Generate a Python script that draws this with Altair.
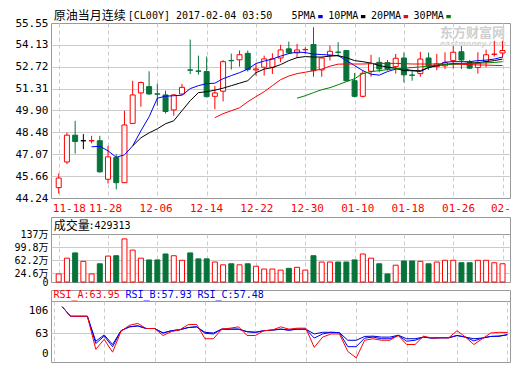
import altair as alt
import pandas as pd

# ------------------------------------------------------------------ data
TITLE_NAME = "原油当月连续"
TITLE_CODE = "[CL00Y] 2017-02-04 03:50"
DATE_TICKS = ["11-18", "11-28", "12-06", "12-14", "12-22",
              "12-30", "01-10", "01-18", "01-26", "02-03"]
TICK_EVERY = 6

OPEN = [44.91, 46.57, 48.30, 47.94, 47.93, 47.94, 45.45, 46.85, 45.23, 49.06,
        51.03, 51.44, 50.97, 50.90, 49.93, 50.96, 52.52, 52.45, 52.41, 50.81,
        51.14, 53.13, 53.17, 53.59, 52.52, 52.69, 52.69, 53.29, 53.88, 53.62,
        53.82, 54.16, 52.52, 53.44, 53.67, 53.77, 51.82, 50.81, 52.43, 53.01,
        52.99, 52.73, 53.29, 52.19, 52.28, 53.29, 52.73, 52.78, 53.12, 53.69,
        52.99, 52.67, 53.05, 53.52, 53.61]
HIGH = [45.82, 48.47, 49.23, 48.37, 48.26, 48.26, 47.61, 47.07, 49.88, 51.82,
        51.76, 52.43, 51.63, 51.18, 50.96, 51.61, 54.48, 53.44, 53.38, 51.48,
        53.15, 53.57, 53.77, 53.77, 52.94, 53.44, 53.59, 54.14, 54.35, 54.20,
        53.98, 55.28, 53.33, 54.09, 54.31, 53.77, 52.32, 52.47, 53.49, 53.33,
        53.16, 53.55, 53.64, 52.54, 53.69, 53.64, 53.55, 53.66, 54.06, 54.06,
        53.16, 53.66, 53.83, 54.40, 54.40]
LOW = [44.52, 46.43, 47.11, 47.40, 47.77, 45.88, 45.17, 44.80, 45.20, 49.02,
       50.14, 50.92, 50.20, 49.70, 49.56, 50.90, 52.25, 52.21, 50.74, 49.98,
       50.48, 52.54, 52.73, 52.41, 52.15, 52.15, 52.26, 53.01, 53.55, 53.29,
       53.55, 52.08, 52.08, 53.12, 53.38, 51.76, 50.74, 50.74, 52.08, 52.36,
       52.47, 52.28, 51.71, 51.82, 52.08, 52.52, 52.50, 52.58, 52.61, 52.58,
       52.58, 52.28, 52.69, 53.38, 53.31]
CLOSE = [45.53, 48.30, 47.89, 47.94, 47.95, 45.93, 46.90, 45.23, 48.96, 50.90,
         51.70, 50.96, 50.95, 49.83, 50.90, 51.39, 52.50, 52.43, 50.79, 51.03,
         53.05, 53.11, 53.50, 52.54, 52.58, 53.23, 53.23, 53.81, 53.62, 53.81,
         53.84, 52.47, 53.29, 53.72, 53.65, 51.82, 50.81, 52.30, 52.94, 52.58,
         52.58, 53.27, 52.20, 52.17, 53.22, 52.73, 52.91, 52.99, 53.66, 53.16,
         52.63, 52.96, 53.50, 53.54, 53.77]
VOLUME = [23, 68, 83, 59, 23, 52, 74, 75, 123, 91,
          68, 63, 63, 80, 75, 62, 83, 66, 66, 57,
          49, 52, 49, 52, 45, 37, 37, 34, 39, 42,
          34, 75, 57, 57, 57, 57, 63, 80, 68, 52,
          23, 48, 60, 60, 59, 52, 57, 62, 62, 55,
          55, 62, 62, 55, 52]

MA_NAMES = ["5PMA", "10PMA", "20PMA", "30PMA"]
MA_START = [4, 9, 19, 29]
MA5 = [47.55, 47.58, 47.29, 46.87, 47.03, 47.61, 48.58, 49.49, 50.69, 50.82,
       50.85, 50.88, 51.31, 51.50, 51.63, 51.66, 51.95, 52.15, 52.34, 52.57,
       52.93, 53.09, 53.22, 53.41, 53.57, 53.67, 53.64, 53.54, 53.51, 53.48,
       53.44, 53.12, 52.80, 52.47, 52.24, 52.18, 52.41, 52.57, 52.60, 52.47,
       52.41, 52.67, 52.80, 53.02, 53.05, 53.05, 53.05, 53.12, 53.15, 53.22,
       53.35]
MA10 = [47.61, 48.13, 48.45, 48.71, 49.04, 49.23, 49.88, 50.53, 51.05, 51.11,
        51.21, 51.34, 51.50, 51.66, 51.82, 52.34, 52.57, 52.67, 52.86, 53.12,
        53.31, 53.38, 53.35, 53.35, 53.41, 53.44, 53.31, 53.12, 53.05, 52.96,
        52.80, 52.70, 52.63, 52.47, 52.47, 52.47, 52.67, 52.80, 52.86, 52.93,
        52.93, 52.96, 52.99, 53.05, 53.12, 53.22]
MA20 = [49.43, 49.69, 49.88, 50.07, 50.46, 50.79, 51.11, 51.50, 51.89, 52.12,
        52.28, 52.37, 52.47, 52.57, 52.76, 52.89, 52.90, 52.90, 52.90, 52.92,
        52.94, 52.94, 52.94, 52.92, 52.90, 52.90, 52.90, 52.90, 52.90, 52.89,
        52.88, 52.86, 52.84, 52.83, 52.81, 52.80]
MA30 = [50.69, 50.85, 51.05, 51.24, 51.37, 51.56, 51.76, 51.95, 52.28, 52.41,
        52.47, 52.54, 52.60, 52.63, 52.67, 52.71, 52.76, 52.83, 52.86, 52.89,
        52.93, 52.94, 52.95, 52.97, 53.00, 53.05]

RSI_NAMES = ["RSI_A", "RSI_B", "RSI_C"]
RSI_LAST = ["63.95", "57.93", "57.48"]
RSI_START = 1
RSI_A = [112.1, 94.2, 94.2, 94.2, 12.0, 43.1, 3.0, 66.0, 77.3,
         80.9, 71.4, 71.4, 55.2, 65.5, 69.1, 78.6, 79.1, 45.0, 45.0,
         70.2, 72.0, 74.5, 55.2, 55.2, 67.3, 68.4, 74.5, 70.2, 72.0,
         72.0, 18.0, 50.1, 60.0, 60.0, 5.1, -15.0, 40.2, 45.0, 40.2,
         40.2, 55.2, 27.0, 27.0, 53.1, 47.1, 48.0, 48.0, 67.3, 50.1,
         27.0, 45.0, 63.0, 64.3, 63.95]
RSI_B = [112.1, 94.2, 94.2, 94.2, 30.0, 53.1, 20.1, 67.3, 74.5,
         76.3, 71.4, 71.4, 63.0, 67.3, 69.1, 73.2, 74.5, 62.1, 60.0,
         70.2, 70.2, 70.2, 65.5, 64.3, 67.3, 68.4, 70.2, 68.4, 70.2,
         70.2, 47.1, 60.0, 64.3, 63.7, 20.1, 20.1, 47.1, 50.1, 45.0,
         45.0, 55.2, 37.2, 40.2, 50.1, 47.1, 48.0, 48.0, 55.2, 50.1,
         38.1, 47.1, 52.2, 53.1, 57.93]
RSI_C = [112.1, 94.2, 94.2, 94.2, 37.2, 57.0, 27.0, 67.3, 74.5,
         76.3, 71.4, 71.4, 63.0, 67.3, 69.1, 73.2, 74.5, 64.3, 63.0,
         70.2, 70.2, 70.2, 65.5, 64.3, 67.3, 68.4, 70.2, 68.4, 70.2,
         70.2, 60.0, 64.3, 64.3, 63.7, 40.2, 40.2, 52.2, 53.1, 50.1,
         50.1, 56.0, 45.0, 45.0, 50.1, 47.1, 48.0, 48.0, 55.2, 50.1,
         45.0, 47.1, 52.2, 53.1, 57.48]

PRICE_TICKS = [44.24, 45.66, 47.07, 48.48, 49.90, 51.31, 52.72, 54.13, 55.55]
VOL_TICKS = [0, 24.6, 62.2, 99.8, 137]
RSI_TICKS = [0, 63, 106]
VOL_TITLE = "成交量"
VOL_LAST = "429313"
WATERMARK = "东方财富网"
WATERMARK_URL = "eastmoney.com"

# ------------------------------------------------------------------ style
RED = "#ff0000"
GREEN = "#07733a"
BLUE = "#0000ff"
BLACK = "#000000"
MA_COLORS = [BLUE, BLACK, RED, "#008000"]
RSI_COLORS = [RED, BLUE, "#0000cc"]
FRAME = "#999999"
GRID = "#cccccc"
MONO = "DejaVu Sans Mono, Noto Sans CJK SC"
CJK = "Noto Sans CJK SC"
W = 459
NOSTROKE = alt.ViewBackground(stroke="transparent")

N = len(CLOSE)
df = pd.DataFrame({"i": list(range(N)), "open": OPEN, "high": HIGH,
                   "low": LOW, "close": CLOSE, "vol": VOLUME})
df["line"] = [RED if c > o else (GREEN if c < o else BLACK) for o, c in zip(OPEN, CLOSE)]
df["body"] = ["white" if c > o else (GREEN if c < o else BLACK) for o, c in zip(OPEN, CLOSE)]
df["vline"] = [RED if c >= o else GREEN for o, c in zip(OPEN, CLOSE)]
df["vbody"] = ["white" if c >= o else GREEN for o, c in zip(OPEN, CLOSE)]

one = pd.DataFrame({"k": [0]})

X_DOMAIN = [-0.33, N - 1 + 0.3]
x_scale = alt.Scale(domain=X_DOMAIN, nice=False, zero=False)
tick_idx = [k * TICK_EVERY for k in range(len(DATE_TICKS))]


def x_enc():
    ax = alt.Axis(values=tick_idx, grid=True, gridColor=GRID, gridDash=[4, 3],
                  ticks=False, domain=False, labels=False)
    return alt.X("i:Q", scale=x_scale, axis=ax, title=None)


def edge_hide(test):
    return {"condition": {"test": test, "value": 0}, "value": 1}


YAX = dict(ticks=False, domain=False, labelPadding=3, labelFont=MONO,
           labelColor=BLACK, labelOverlap=False, grid=True, gridColor=GRID)

price_scale = alt.Scale(domain=[PRICE_TICKS[0], PRICE_TICKS[-1]], nice=False, zero=False)
price_axis = alt.Axis(values=PRICE_TICKS, format=".2f", labelFontSize=11,
                      gridOpacity=edge_hide("datum.value <= %s || datum.value >= %s"
                                            % (PRICE_TICKS[0], PRICE_TICKS[-1])), **YAX)


def py(field):
    return alt.Y(field + ":Q", scale=price_scale, axis=price_axis, title=None)


def label(text, x, y, **kw):
    kw.setdefault("align", "left")
    kw.setdefault("baseline", "middle")
    return alt.Chart(one).mark_text(text=text, **kw).encode(x=alt.value(x), y=alt.value(y))


# ------------------------------------------------------------------ title row
title_layers = [label(TITLE_NAME, 2.8, 6.5, font=CJK, fontSize=12, color=BLACK),
                label(TITLE_CODE, 76.8, 6.5, font=MONO, fontSize=10, color=BLACK)]
xpos = 240.5
for name, col in zip(MA_NAMES, MA_COLORS):
    title_layers.append(label(name, xpos, 6.5, font=MONO, fontSize=10, color=BLACK))
    d0 = xpos + 6 * len(name) + 2.7
    title_layers.append(alt.Chart(one).mark_rect(color=col).encode(
        x=alt.value(d0), x2=alt.value(d0 + 4.5), y=alt.value(6), y2=alt.value(9.2)))
    xpos = d0 + 10
title_row = alt.layer(*title_layers).properties(width=W, height=14, view=NOSTROKE)

# ------------------------------------------------------------------ price panel
base = alt.Chart(df)
wick = base.mark_rule(strokeWidth=1).encode(
    x=x_enc(), y=py("low"), y2="high:Q", color=alt.Color("line:N", scale=None))
body = base.mark_bar(size=5, strokeWidth=1).encode(
    x=x_enc(), y=py("open"), y2="close:Q",
    fill=alt.Fill("body:N", scale=None), stroke=alt.Stroke("line:N", scale=None))

ma_layers = []
for name, start, vals, col in zip(MA_NAMES, MA_START, [MA5, MA10, MA20, MA30], MA_COLORS):
    mdf = pd.DataFrame({"i": list(range(start, start + len(vals))), "value": vals})
    ma_layers.append(alt.Chart(mdf).mark_line(strokeWidth=1, color=col).encode(
        x=x_enc(), y=py("value")))

wm = [label(WATERMARK, W - 70, 9.5, font=CJK, fontSize=13, fontWeight="bold", color="#cfcfcf"),
      label(WATERMARK_URL, W - 70, 21, font="DejaVu Sans", fontSize=7.5, fontWeight="bold",
            fontStyle="italic", color="#d6d6d6")]

price = alt.layer(*wm, wick, body, *ma_layers).properties(width=W, height=175)

# ------------------------------------------------------------------ date labels
ddf = pd.DataFrame({"i": tick_idx, "d": DATE_TICKS})
date_x = alt.X("i:Q", scale=alt.Scale(domain=X_DOMAIN, range=[0, W], nice=False, zero=False), axis=None)
DATE_STYLE = dict(baseline="middle", font=MONO, fontSize=11, color=RED)
date_first = alt.Chart(ddf.iloc[:1]).mark_text(align="left", dx=-1, **DATE_STYLE).encode(
    x=date_x, y=alt.value(10.7), text="d:N")
date_mid = alt.Chart(ddf.iloc[1:-1]).mark_text(align="center", dx=1.5, **DATE_STYLE).encode(
    x=date_x, y=alt.value(10.7), text="d:N")
# the last label runs into the right edge of the picture and is cut there
date_last = alt.Chart(ddf.iloc[-1:]).mark_text(align="left", dx=-16.5, limit=20.5,
                                               ellipsis="\u200b", **DATE_STYLE).encode(
    x=date_x, y=alt.value(10.7), text="d:N")
date_row = alt.layer(date_first, date_mid, date_last).properties(width=W, height=19, view=NOSTROKE)


def spacer(h):
    return label("", 0, 0).properties(width=W, height=h, view=NOSTROKE)


# ------------------------------------------------------------------ volume
vol_head = alt.layer(
    label(VOL_TITLE, 2.8, 8.5, font=CJK, fontSize=12, color=BLACK),
    label(":" + VOL_LAST, 37.5, 8.5, font=MONO, fontSize=10, color=BLACK),
).properties(width=W, height=17)

vol_axis = alt.Axis(values=VOL_TICKS, labelFontSize=10,
                    gridOpacity=edge_hide("datum.value <= 0 || datum.value >= %s" % VOL_TICKS[-1]),
                    labelExpr="datum.value == 0 ? '0' : format(datum.value, '~g') + '万'", **YAX)
vol = alt.Chart(df).mark_bar(size=5, strokeWidth=1).encode(
    x=x_enc(),
    y=alt.Y("vol:Q", scale=alt.Scale(domain=[0, VOL_TICKS[-1]], nice=False), axis=vol_axis, title=None),
    fill=alt.Fill("vbody:N", scale=None), stroke=alt.Stroke("vline:N", scale=None),
).properties(width=W, height=48)

# ------------------------------------------------------------------ RSI
rsi_head = alt.layer(*[
    label("%s:%s" % (n, v), 2.5 + 72 * k, 4.6, font=MONO, fontSize=10, color=c)
    for k, (n, v, c) in enumerate(zip(RSI_NAMES, RSI_LAST, RSI_COLORS))
]).properties(width=W, height=11)

RSI_H = 61
rsi_scale = alt.Scale(domain=[-27.9, 0, 63, 106, 122.8], range=[RSI_H, 52.1, 32, 9, 0],
                      nice=False, zero=False)
rsi_axis = alt.Axis(values=RSI_TICKS, format="d", labelFontSize=11,
                    gridOpacity=edge_hide("datum.value != 63"), **YAX)
rsi_layers = []
for name, vals, col in reversed(list(zip(RSI_NAMES, [RSI_A, RSI_B, RSI_C], RSI_COLORS))):
    rdf = pd.DataFrame({"i": list(range(RSI_START, RSI_START + len(vals))), "value": vals})
    rsi_layers.append(alt.Chart(rdf).mark_line(strokeWidth=1, color=col).encode(
        x=x_enc(), y=alt.Y("value:Q", scale=rsi_scale, axis=rsi_axis, title=None)))
rsi = alt.layer(*rsi_layers).properties(width=W, height=RSI_H)

chart = alt.vconcat(
    title_row, price, date_row, vol_head, vol, spacer(8), rsi_head, rsi,
    spacing=0, bounds="flush",
).resolve_scale(x="independent").properties(
    padding={"left": 5, "top": 0, "right": 0, "bottom": 0}
).configure_view(stroke=FRAME, strokeWidth=1)

chart.save("out.html", embed_options={"renderer": "svg", "actions": False})
